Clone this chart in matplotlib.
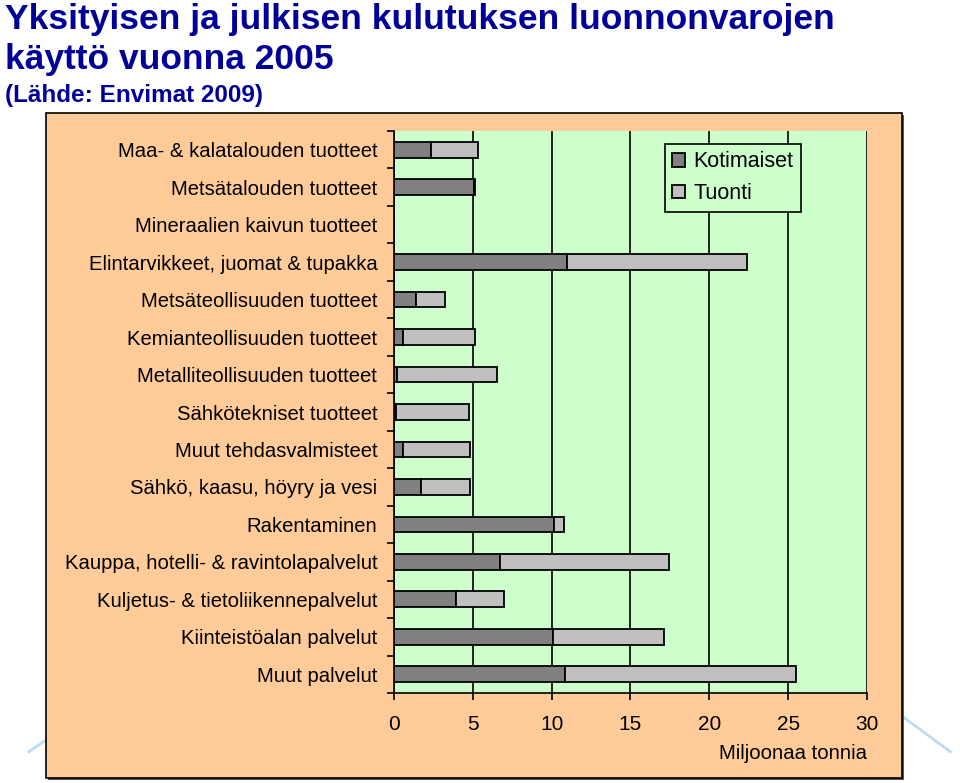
import numpy as np
import matplotlib
matplotlib.use('Agg')
import matplotlib.pyplot as plt
from matplotlib.patches import Rectangle

plt.rcParams['font.family'] = ['Liberation Sans', 'DejaVu Sans']

# Toimialat (ylhäältä alas)
categories = [
    'Maa- & kalatalouden tuotteet',
    'Metsätalouden tuotteet',
    'Mineraalien kaivun tuotteet',
    'Elintarvikkeet, juomat & tupakka',
    'Metsäteollisuuden tuotteet',
    'Kemianteollisuuden tuotteet',
    'Metalliteollisuuden tuotteet',
    'Sähkötekniset tuotteet',
    'Muut tehdasvalmisteet',
    'Sähkö, kaasu, höyry ja vesi',
    'Rakentaminen',
    'Kauppa, hotelli- & ravintolapalvelut',
    'Kuljetus- & tietoliikennepalvelut',
    'Kiinteistöalan palvelut',
    'Muut palvelut',
]

# Miljoonaa tonnia
kotimaiset = [2.33, 5.1, 0.0, 10.96, 1.39, 0.59, 0.19, 0.1, 0.59, 1.71, 10.16, 6.74, 3.93, 10.06, 10.86]
tuonti = [3.02, 0.07, 0.0, 11.41, 1.82, 4.56, 6.36, 4.63, 4.25, 3.13, 0.61, 10.69, 3.02, 7.07, 14.62]

xticks = [0, 5, 10, 15, 20, 25, 30]

fig = plt.figure(figsize=(9.6, 7.83), dpi=100)
fig.patch.set_facecolor('white')

# oranssi kehys varjolla
fig.patches.append(Rectangle((0.0495, 0.0035), 0.8917, 0.8493, transform=fig.transFigure,
                             facecolor='#555555', edgecolor='none', zorder=0))
fig.patches.append(Rectangle((0.0479, 0.0064), 0.8917, 0.8493, transform=fig.transFigure,
                             facecolor='#FFCC99', edgecolor='black', linewidth=1.2, zorder=1))

# koristeviivat
fig.add_artist(plt.Line2D([0.03, 0.048], [0.04, 0.055], transform=fig.transFigure,
                          color='#BBDDF0', linewidth=2, zorder=0))
fig.add_artist(plt.Line2D([0.94, 0.99], [0.085, 0.04], transform=fig.transFigure,
                          color='#BBDDF0', linewidth=2, zorder=0))

ax = fig.add_axes([0.4104, 0.1149, 0.4927, 0.7178])
ax.set_zorder(5)
ax.set_facecolor('#CCFFCC')

y = np.arange(len(categories))
ax.barh(y, kotimaiset, height=0.42, color='#808080', edgecolor='black', linewidth=1.3,
        label='Kotimaiset', zorder=3)
ax.barh(y, tuonti, left=kotimaiset, height=0.42, color='#C0C0C0', edgecolor='black',
        linewidth=1.3, label='Tuonti', zorder=3)

ax.set_xlim(0, 30)
ax.set_ylim(len(categories) - 0.5, -0.5)
ax.set_xticks(xticks)
ax.set_xticklabels([str(t) for t in xticks], fontsize=15)
ax.xaxis.grid(True, color='black', linewidth=1.2, zorder=1)
ax.set_axisbelow(True)

ax.set_yticks(y)
ax.set_yticklabels(categories, fontsize=14.6)
ax.set_yticks(np.arange(len(categories) + 1) - 0.5, minor=True)
ax.tick_params(axis='y', which='major', length=0, pad=12)
ax.tick_params(axis='y', which='minor', length=5, width=1.2, direction='out')
ax.tick_params(axis='x', length=5, width=1.2, direction='out', pad=11)

for side in ['top', 'right']:
    ax.spines[side].set_visible(False)
for side in ['left', 'bottom']:
    ax.spines[side].set_linewidth(1.2)

ax.set_xlabel('Miljoonaa tonnia', fontsize=14.6, loc='right', labelpad=7)

leg = ax.legend(loc='upper right', bbox_to_anchor=(0.861, 0.977), fontsize=15.5,
                frameon=True, fancybox=False, handlelength=0.6, handleheight=0.6,
                handletextpad=0.4, borderpad=0.35, labelspacing=0.5, borderaxespad=0)
leg.get_frame().set_facecolor('#CCFFCC')
leg.get_frame().set_edgecolor('black')
leg.get_frame().set_linewidth(1.2)
leg.get_frame().set_alpha(1)

# otsikot
fig.text(0.005, 1 - 29 / 783, 'Yksityisen ja julkisen kulutuksen luonnonvarojen', fontsize=25.5,
         fontweight='bold', color='#000099', va='baseline', ha='left')
fig.text(0.005, 1 - 69 / 783, 'käyttö vuonna 2005', fontsize=25.5,
         fontweight='bold', color='#000099', va='baseline', ha='left')
fig.text(0.005, 1 - 102 / 783, '(Lähde: Envimat 2009)', fontsize=17.5,
         fontweight='bold', color='#000099', va='baseline', ha='left')

fig.savefig('out.png', dpi=100, facecolor=fig.get_facecolor())
